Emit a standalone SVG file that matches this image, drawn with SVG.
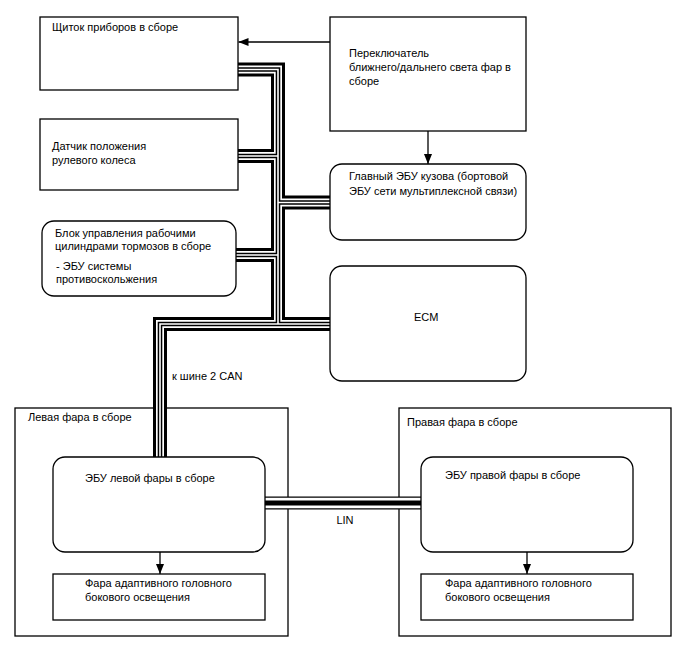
<svg xmlns="http://www.w3.org/2000/svg" xmlns:xlink="http://www.w3.org/1999/xlink" width="688" height="658" viewBox="0 0 688 658">
  <style>
    .box { fill: #fff; stroke: #000; stroke-width: 1.3; }
    .frame { fill: none; stroke: #000; stroke-width: 1.3; }
    .t { font-family: "Liberation Sans", Arial, sans-serif; font-size: 11px; fill: #000; }
    .arrow { stroke: #000; stroke-width: 1.3; fill: none; marker-end: url(#ah); }
    .c1 { fill: none; stroke: #000; stroke-width: 14; stroke-linejoin: miter; }
    .c2 { fill: none; stroke: #fff; stroke-width: 8; stroke-linejoin: miter; }
    .c3 { fill: none; stroke: #000; stroke-width: 4.6; stroke-linejoin: miter; }
    .c4 { fill: none; stroke: #fff; stroke-width: 1.6; stroke-linejoin: miter; }
    .l1 { fill: none; stroke: #000; stroke-width: 13; }
    .l2 { fill: none; stroke: #fff; stroke-width: 10.4; }
    .l3 { fill: none; stroke: #000; stroke-width: 4.8; }
  </style>
  <defs>
    <marker id="ah" markerUnits="userSpaceOnUse" markerWidth="10" markerHeight="8" refX="10" refY="4" orient="auto">
      <path d="M0,0 L10,4 L0,8 Z" fill="#000"/>
    </marker>
    <path id="can" d="M238,69.5 H278 V324 M238,156 H278 M278,202.5 H330 M236,255 H278 M330,324 H160 V457"/>
    <path id="lin" d="M265,503 H421"/>
  </defs>
  <rect width="688" height="658" fill="#fff"/>

  <g id="left-headlamp">
    <rect class="frame" x="15" y="408" width="273" height="228"/>
    <text class="t" x="28" y="421">Левая фара в сборе</text>
  </g>
  <g id="right-headlamp">
    <rect class="frame" x="399" y="408" width="272" height="228"/>
    <text class="t" x="407" y="426">Правая фара в сборе</text>
  </g>

  <g id="connectors">
    <use xlink:href="#can" class="c1"/>
    <use xlink:href="#can" class="c2"/>
    <use xlink:href="#can" class="c3"/>
    <use xlink:href="#can" class="c4"/>
    <use xlink:href="#lin" class="l1"/>
    <use xlink:href="#lin" class="l2"/>
    <use xlink:href="#lin" class="l3"/>
    <line class="arrow" x1="330" y1="42" x2="238.5" y2="42"/>
    <line class="arrow" x1="428" y1="131" x2="428" y2="164"/>
    <line class="arrow" x1="160" y1="552" x2="160" y2="574"/>
    <line class="arrow" x1="527" y1="552" x2="527" y2="574"/>
    <text class="t" x="172" y="380">к шине 2 CAN</text>
    <text class="t" x="345" y="524" text-anchor="middle">LIN</text>
  </g>

  <g id="combination-meter">
    <rect class="box" x="40" y="17" width="198" height="73"/>
    <text class="t" x="52" y="31">Щиток приборов в сборе</text>
  </g>
  <g id="headlight-switch">
    <rect class="box" x="330" y="17" width="196" height="114"/>
    <text class="t" x="349" y="57">Переключатель</text>
    <text class="t" x="349" y="71">ближнего/дальнего света фар в</text>
    <text class="t" x="349" y="85">сборе</text>
  </g>
  <g id="steering-sensor">
    <rect class="box" x="40" y="119" width="198" height="71"/>
    <text class="t" x="52" y="150">Датчик положения</text>
    <text class="t" x="52" y="163.5">рулевого колеса</text>
  </g>
  <g id="main-body-ecu">
    <rect class="box" x="330" y="164" width="196" height="76" rx="12" ry="12"/>
    <text class="t" x="349" y="180">Главный ЭБУ кузова (бортовой</text>
    <text class="t" x="349" y="195">ЭБУ сети мультиплексной связи)</text>
  </g>
  <g id="brake-actuator">
    <rect class="box" x="42" y="221" width="194" height="75" rx="12" ry="12"/>
    <text class="t" x="55" y="237">Блок управления рабочими</text>
    <text class="t" x="55" y="250">цилиндрами тормозов в сборе</text>
    <text class="t" x="56" y="270">- ЭБУ системы</text>
    <text class="t" x="56" y="283">противоскольжения</text>
  </g>
  <g id="ecm">
    <rect class="box" x="330" y="266" width="196" height="115" rx="12" ry="12"/>
    <text class="t" x="414" y="321">ECM</text>
  </g>
  <g id="left-ecu">
    <rect class="box" x="53" y="457" width="212" height="95" rx="12" ry="12"/>
    <text class="t" x="85" y="482">ЭБУ левой фары в сборе</text>
  </g>
  <g id="left-afs">
    <rect class="box" x="53" y="574" width="212" height="46"/>
    <text class="t" x="85" y="587">Фара адаптивного головного</text>
    <text class="t" x="85" y="601">бокового освещения</text>
  </g>
  <g id="right-ecu">
    <rect class="box" x="421" y="457" width="212" height="95" rx="12" ry="12"/>
    <text class="t" x="445" y="479">ЭБУ правой фары в сборе</text>
  </g>
  <g id="right-afs">
    <rect class="box" x="421" y="574" width="212" height="46"/>
    <text class="t" x="445" y="587">Фара адаптивного головного</text>
    <text class="t" x="445" y="601">бокового освещения</text>
  </g>
</svg>
